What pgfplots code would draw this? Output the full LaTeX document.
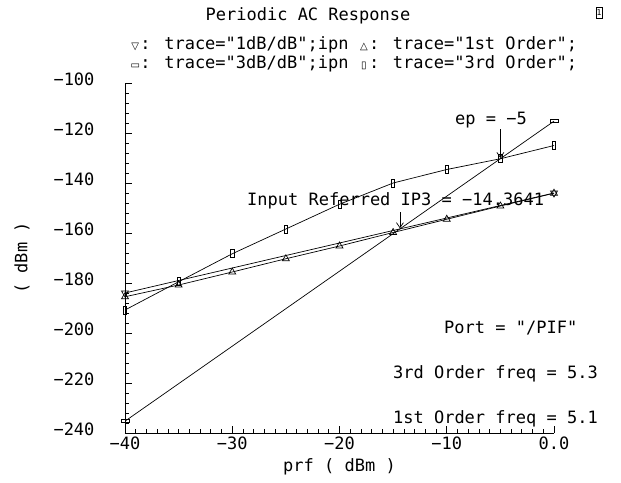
\documentclass[border=0pt]{standalone}
\usepackage{fontspec}
\setmainfont{DejaVu Sans Mono}[Ligatures=TeXOff]
\newfontfamily\sym{DejaVu Sans}
\usepackage{pgfplots}
\pgfplotsset{compat=1.18}
\usetikzlibrary{arrows.meta}
\newcommand\cf{\fontsize{17}{20}\selectfont}
\newcommand\lm[1]{\makebox[0.602em]{\sym\fontsize{10}{10}\selectfont #1}}

\pgfplotstableread{
x y
-40 -185.5
-35 -180.8
-30 -175.6
-25 -170.3
-20 -165.2
-15 -159.8
-10 -154.5
-5 -149.2
0 -144.1
}\firstorder

\pgfplotstableread{
x y
-40 -190.8
-35 -179.5
-30 -168.3
-25 -158.4
-20 -148.5
-15 -140.0
-10 -134.6
-5 -130.3
0 -125.0
}\thirdorder

\pgfplotstableread{
x y
-40 -184.0
0 -144.0
}\onedb

\pgfplotstableread{
x y
-40 -235.27
0 -115.27
}\threedb

\begin{document}
\begin{tikzpicture}
\path[use as bounding box] (0,0) rectangle (621pt,-482pt);
\begin{axis}[
 at={(125pt,-433pt)}, anchor=south west,
 scale only axis, width=429pt, height=350pt,
 xmin=-40, xmax=0, ymin=-240, ymax=-100,
 axis x line*=bottom, axis y line*=left,
 axis line style={-, line width=0.7pt},
 tick align=inside,
 major tick length=7pt, minor tick length=4pt,
 every tick/.style={black, line width=0.7pt},
 xtick={-40,-30,-20,-10,0}, xticklabels={−40,−30,−20,−10,0.0},
 minor x tick num=9,
 ytick={-240,-220,-200,-180,-160,-140,-120,-100},
 yticklabels={−240,−220,−200,−180,−160,−140,−120,−100},
 minor y tick num=4,
 ticklabel style={font=\cf},
 yticklabel style={xshift=-27pt, yshift=4pt},
 xlabel={prf ( dBm )}, ylabel={( dBm )},
 label style={font=\cf},
 xlabel style={at={(axis description cs:0.5,-0.097)}, anchor=center},
 ylabel style={at={(axis description cs:-0.24,0.5)}, anchor=center},
 clip=false,
]
\addplot[black, line width=0.7pt, mark=triangle, mark size=4pt, mark options={rotate=180, solid}] table {\onedb};
\addplot[black, line width=0.7pt, mark=triangle, mark size=4pt, mark options={solid}] table {\firstorder};
\addplot[black, line width=0.7pt, mark=square, mark size=4pt, mark options={yscale=0.35, solid}] table {\threedb};
\addplot[black, line width=0.7pt, mark=square, mark size=4pt, mark options={xscale=0.4, solid}] table {\thirdorder};
\draw[-{Straight Barb[length=5pt,width=7pt]}, line width=0.7pt] (axis cs:-5,-118.4) -- (axis cs:-5,-130.0);
\draw[-{Straight Barb[length=5pt,width=7pt]}, line width=0.7pt] (axis cs:-14.3641,-151.6) -- (axis cs:-14.3641,-158.1);
\end{axis}
\node[font=\cf, anchor=base, inner sep=0] at (308pt,-20pt) {Periodic AC Response};
\node[draw, line width=0.6pt, inner sep=0pt, minimum width=6pt, minimum height=11pt, font=\fontsize{8}{8}\selectfont] at (599pt,-13pt) {1};
\node[font=\cf, anchor=base west, inner sep=0] at (130pt,-49pt) {\lm{▽}: trace="1dB/dB";ipn \lm{△}: trace="1st Order";};
\node[font=\cf, anchor=base west, inner sep=0] at (130pt,-68pt) {\lm{▭}: trace="3dB/dB";ipn \lm{▯}: trace="3rd Order";};
\node[font=\cf, anchor=base west, inner sep=0] at (455pt,-124pt) {ep = −5};
\node[font=\cf, anchor=base west, inner sep=0] at (247pt,-205pt) {Input Referred IP3 = −14.3641};
\node[font=\cf, anchor=base west, inner sep=0] at (444pt,-333pt) {Port = "/PIF"};
\node[font=\cf, anchor=base east, inner sep=0] at (598pt,-378pt) {3rd Order freq = 5.3};
\node[font=\cf, anchor=base east, inner sep=0] at (598pt,-423pt) {1st Order freq = 5.1};
\end{tikzpicture}
\end{document}
